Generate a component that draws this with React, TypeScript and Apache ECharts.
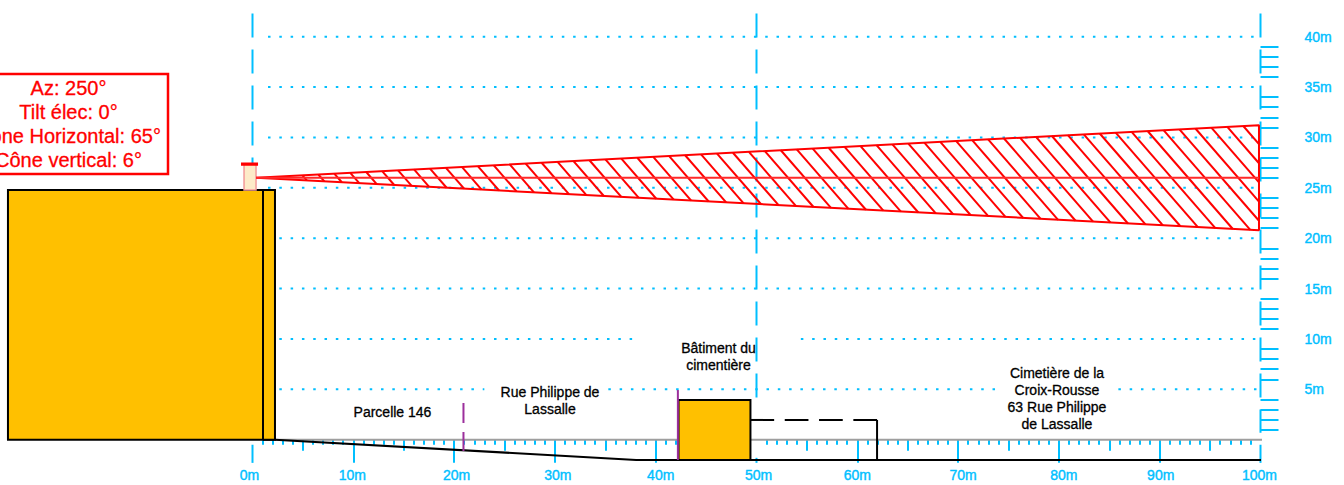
import React, { useEffect, useRef } from "react";
import * as echarts from "echarts";

const CYAN = "#00bfff";
const RED = "#ff0000";
const BLACK = "#000000";
const ORANGE = "#ffc000";
const PURPLE = "#9c2f9c";
const FONT = "'Liberation Sans', Arial, sans-serif";

// metres along the ground (x) and above it (y)
const xTickValues = [10, 20, 30, 40, 60, 70, 80, 90];
const xHalfTicks = [5, 15, 25, 35, 45, 55, 65, 75, 85, 95];
const yTickValues = [1, 2, 3, 4, 6, 7, 8, 9, 11, 12, 13, 14, 16, 17, 18, 19, 21, 22, 23, 24, 26, 27, 28, 29, 31, 32, 33, 34, 36, 37, 38, 39];
const levelRows = [
  [15, 1.54, 107.4],
  [20, 1.54, 107.4],
  [25, 1.54, 107.4],
  [30, 1.54, 107.4],
  [35, 1.54, 107.4],
  [40, 1.54, 107.4],
  [10, 1.54, 37.9],
  [10, 54.4, 107.4],
  [5, 1.54, 23],
  [5, 35.3, 73.9],
  [5, 85.9, 107.4],
];
const dashedVerticals = [
  [0, 42.3, 27.4],
  [50, 42.3, 4.2],
  [100, 42.3, 0.7],
];
const lowerTickStubs = [
  [0, -0.5, -2.3],
  [100, -0.5, -2.3],
  [50, -1.8, -2.3],
];
const baseline = [[2.23, 0], [107.4, 0]];
const groundLine = [[1.04, 0], [2.23, 0], [38.07, -2.01], [100.05, -2.01]];
const hiddenBuildingTop = [[49.4, 1.96], [61.96, 1.96]];
const hiddenBuildingEnd = [[61.96, 1.96], [61.96, -2.01]];
const parcelLimit = [[20.93, 3.64], [20.93, -1.12]];
const buildingLimit = [[42.2, 4.93], [42.2, -2.01]];
const mainBlock = [-24.26, 0, 2.23, 24.78];
const mainBlockDivider = [[1.04, 0], [1.04, 24.78]];
const lowBuilding = [42.26, -2.01, 49.4, 3.94];
const mast = [-0.84, 24.78, 0.35, 27.36];
const mastTop = [-1.04, 27.3, 0.45, 27.42];
const beamOutline = [[0.35, 26], [99.85, 31.22], [99.85, 20.8], [0.35, 26]];
const beamAxis = [[0.35, 26], [99.85, 26]];
const hatchLastTopX = 98.29;
const hatchPitch = 1.582;
const hatchSlope = 1.15;
const hatchCount = 60;

const infoLines = ["Az: 250°", "Tilt élec: 0°", "Cône Horizontal: 65°", "Cône vertical: 6°"];
const parcelLabel = ["Parcelle 146"];
const streetLabel = ["Rue Philippe de", "Lassalle"];
const buildingLabel = ["Bâtiment du", "cimentière"];
const cemeteryLabel = ["Cimetière de la", "Croix-Rousse", "63 Rue Philippe", "de Lassalle"];

// horizontal nudges of the ground scale's labels, as hand-placed in the drawing
const xLabelNudge: Record<number, number> = { 0: -3, 10: -1, 20: 2.5, 30: 3, 40: 5, 50: 2, 60: 0, 70: 5, 80: 5, 90: 1, 100: -1 };

const tickLabel = { color: CYAN, fontFamily: FONT, fontSize: 14, textBorderColor: CYAN, textBorderWidth: 0.4 };

const line = (data: number[][], color: string, width = 2, type: any = "solid", z = 3) => ({
  type: "line",
  data,
  symbol: "none",
  clip: false,
  silent: true,
  z,
  lineStyle: { color, width, type, cap: "butt" },
});

const box = (r: number[], fill: string, stroke: string, width = 2, z = 4) => ({
  type: "custom",
  clip: false,
  silent: true,
  z,
  data: [r],
  encode: { x: [0, 2], y: [1, 3] },
  renderItem: (_p: any, api: any) => {
    const a = api.coord([api.value(0), api.value(1)]);
    const b = api.coord([api.value(2), api.value(3)]);
    return {
      type: "rect",
      shape: { x: a[0], y: b[1], width: b[0] - a[0], height: a[1] - b[1] },
      style: { fill, stroke, lineWidth: width },
    };
  },
});

const hatch = {
  type: "custom",
  clip: false,
  silent: true,
  z: 5,
  data: [[0, 26]],
  renderItem: (_p: any, api: any) => {
    const [ax, ay] = beamOutline[0];
    const [bx, by] = beamOutline[1];
    const k = (by - ay) / (bx - ax);
    const children: any[] = [];
    for (let i = 0; i < hatchCount; i++) {
      const tx = hatchLastTopX - i * hatchPitch;
      const ty = ay + (tx - ax) * k;
      // meets the lower edge of the cone, or its far end
      let ex = (ty + hatchSlope * tx - ay - k * ax) / (hatchSlope - k);
      if (ex > bx) ex = bx;
      const ey = ty - (ex - tx) * hatchSlope;
      const p = api.coord([tx, ty]);
      const q = api.coord([ex, ey]);
      children.push({
        type: "line",
        shape: { x1: p[0], y1: p[1], x2: q[0], y2: q[1] },
        style: { stroke: RED, lineWidth: 2 },
      });
    }
    return { type: "group", children };
  },
};

const textBlock = (lines: string[], x: number, ys: number[], size: number, fill: string) =>
  lines.map((t, i) => ({
    type: "text",
    z: 20,
    silent: true,
    style: {
      text: t,
      x,
      y: ys[i],
      fill,
      stroke: fill,
      lineWidth: 0.3,
      align: "center",
      verticalAlign: "middle",
      font: `${size}px ${FONT}`,
    },
  }));

const richNudges: Record<string, any> = {};
Object.keys(xLabelNudge).forEach((k) => {
  const s = xLabelNudge[+k];
  richNudges[`v${k}`] = { ...tickLabel, padding: [0, s < 0 ? -2 * s : 0, 0, s > 0 ? 2 * s : 0] };
});

export default function App() {
  const ref = useRef<HTMLDivElement>(null);
  useEffect(() => {
    const chart = echarts.init(ref.current!, undefined, { renderer: "svg" });
    chart.setOption({
      animation: false,
      backgroundColor: "#ffffff",
      grid: { left: 252.5, right: 83.5, top: 36.7, bottom: 45.3, containLabel: false },
      xAxis: [
        {
          type: "value",
          min: 0,
          max: 100,
          interval: 10,
          splitLine: { show: false },
          axisLine: { show: false, onZero: false },
          axisTick: { show: true, customValues: xTickValues, length: 23, lineStyle: { color: CYAN, width: 2 } },
          minorTick: { show: true, splitNumber: 10, length: 5, lineStyle: { color: CYAN, width: 2 } },
          axisLabel: {
            ...tickLabel,
            margin: 28,
            hideOverlap: false,
            formatter: (v: number) => `{v${v}|${v}m}`,
            rich: richNudges,
          },
        },
        {
          type: "value",
          min: 0,
          max: 100,
          interval: 5,
          position: "bottom",
          splitLine: { show: false },
          axisLine: { show: false, onZero: false },
          axisTick: { show: true, customValues: xHalfTicks, length: 11, lineStyle: { color: CYAN, width: 2 } },
          axisLabel: { show: false },
        },
      ],
      yAxis: {
        type: "value",
        position: "right",
        min: 0,
        max: 40,
        interval: 5,
        splitLine: { show: false },
        axisLine: { show: false, onZero: false },
        axisTick: { show: true, customValues: yTickValues, length: 18, lineStyle: { color: CYAN, width: 2 } },
        axisLabel: {
          ...tickLabel,
          margin: 44,
          align: "left",
          formatter: (v: number) => (v === 0 ? "" : `${v}m`),
        },
      },
      series: [
        ...levelRows.map(([y, a, b]) => line([[a, y], [b, y]], CYAN, 2, [2.5, 8.8], 1)),
        ...dashedVerticals.map(([x, a, b]) => line([[x, a], [x, b]], CYAN, 2, [24, 12], 2)),
        ...lowerTickStubs.map(([x, a, b]) => line([[x, a], [x, b]], CYAN, 2, "solid", 2)),
        line(baseline, "#9e9e9e", 2, "solid", 2),
        line(groundLine, BLACK, 2),
        line(hiddenBuildingTop, BLACK, 2, [23.7, 10.6]),
        line(hiddenBuildingEnd, BLACK, 2),
        box(mainBlock, ORANGE, BLACK),
        line(mainBlockDivider, BLACK, 2, "solid", 5),
        box(lowBuilding, ORANGE, BLACK),
        line(parcelLimit, PURPLE, 2, [20, 9], 6),
        line(buildingLimit, PURPLE, 2, "solid", 6),
        box(mast, "#fdebc8", "#f29a9a", 1.5, 5),
        box(mastTop, RED, RED, 2, 6),
        line(beamOutline, RED, 2, "solid", 6),
        line(beamAxis, "#ff2a2a", 2, "solid", 6),
        hatch,
      ],
      graphic: [
        { type: "rect", z: 20, silent: true, shape: { x: -31, y: 74, width: 199, height: 100 }, style: { fill: "none", stroke: RED, lineWidth: 2.5 } },
        ...textBlock(infoLines, 68.5, [88, 112, 136, 160], 20, RED),
        ...textBlock(parcelLabel, 392.5, [412], 14, BLACK),
        ...textBlock(streetLabel, 550, [392, 409], 14, BLACK),
        ...textBlock(buildingLabel, 718.5, [348, 365], 14, BLACK),
        ...textBlock(cemeteryLabel, 1057, [373, 390, 407, 424], 14, BLACK),
      ],
    });
    return () => chart.dispose();
  }, []);
  return <div ref={ref} style={{ position: "absolute", left: 0, top: 0, width: 1344, height: 485 }} />;
}
